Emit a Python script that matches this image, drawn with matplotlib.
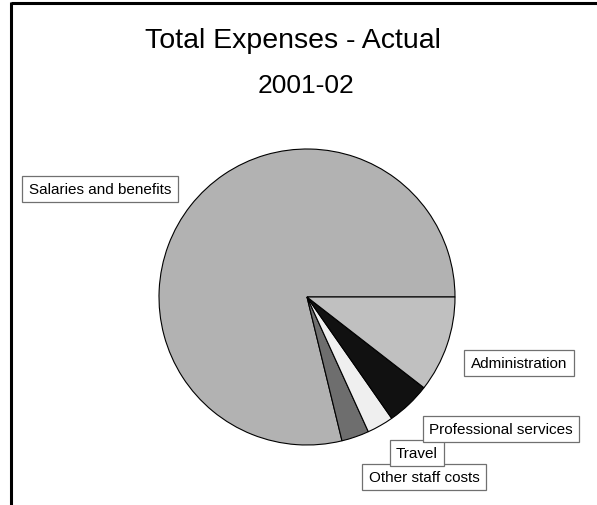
import matplotlib
matplotlib.use("Agg")
import matplotlib.pyplot as plt

plt.rcParams['font.family'] = ['Liberation Sans', 'DejaVu Sans']

# данные (проценты)
labels = ["Salaries and benefits", "Other staff costs", "Travel",
          "Professional services", "Administration"]
shares = [78.8, 3.0, 2.9, 4.8, 10.5]
colors = ["#b2b2b2", "#6e6e6e", "#efefef", "#111111", "#c0c0c0"]

title = "Total Expenses - Actual"
subtitle = "2001-02"

W, H = 597, 506
# центры подписей в пикселях (от верхнего левого угла)
label_xy = [(100, 190), (424, 478), (417, 454), (501, 430), (519, 364)]

fig = plt.figure(figsize=(W / 100, H / 100), dpi=100)
ax = fig.add_axes([0, 0, 1, 1])

ax.pie(shares, colors=colors, startangle=0, counterclock=True,
       center=(307, H - 298), radius=148, frame=True,
       wedgeprops=dict(edgecolor="black", linewidth=0.8))
ax.set_xlim(0, W)
ax.set_ylim(0, H)
ax.set_aspect("equal")
ax.axis("off")

for name, (x, y) in zip(labels, label_xy):
    ax.text(x, H - y, name, ha="center", va="center", fontsize=11,
            bbox=dict(boxstyle="square,pad=0.42", facecolor="white",
                      edgecolor="#707070", linewidth=0.9))

ax.text(293, H - 41, title, ha="center", va="center", fontsize=20.5)
ax.text(306, H - 86, subtitle, ha="center", va="center", fontsize=19)

# рамка: верх и левая сторона
ax.plot([11, W], [H - 4, H - 4], color="black", lw=2.2, solid_capstyle="butt")
ax.plot([11, 11], [H - 3, 0], color="black", lw=2.2, solid_capstyle="butt")

fig.savefig("out.png", dpi=100)
